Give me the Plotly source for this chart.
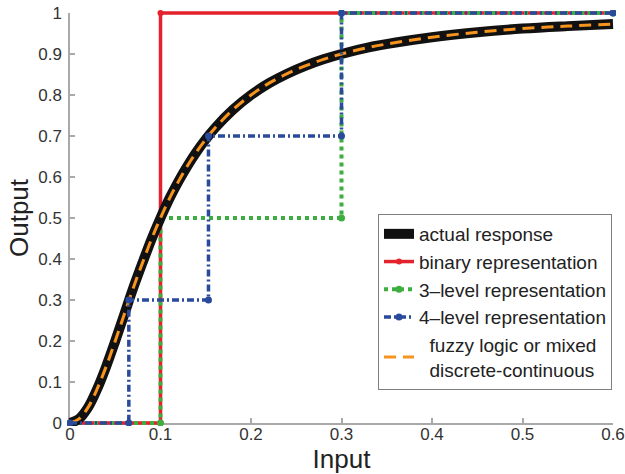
import plotly.graph_objects as go

# Measured (actual) response, also followed by the fuzzy / mixed model
resp_x = [0, 0.01, 0.02, 0.03, 0.04, 0.05, 0.06, 0.07, 0.08, 0.09, 0.10,
          0.11, 0.12, 0.13, 0.14, 0.15, 0.16, 0.18, 0.20, 0.22, 0.24,
          0.26, 0.28, 0.30, 0.33, 0.36, 0.40, 0.45, 0.50, 0.55, 0.60]
resp_y = [0, 0.010, 0.038, 0.083, 0.138, 0.200, 0.265, 0.330, 0.390, 0.448, 0.500,
          0.548, 0.590, 0.628, 0.662, 0.692, 0.719, 0.764, 0.800, 0.829, 0.852,
          0.871, 0.887, 0.900, 0.916, 0.928, 0.941, 0.953, 0.962, 0.968, 0.973]

# Discrete representations (step functions)
binary_x = [0, 0.1, 0.1, 0.6]
binary_y = [0, 0, 1, 1]
level3_x = [0, 0.1, 0.1, 0.3, 0.3, 0.6]
level3_y = [0, 0, 0.5, 0.5, 1, 1]
level4_x = [0, 0.065, 0.065, 0.153, 0.153, 0.3, 0.3, 0.6]
level4_y = [0, 0, 0.3, 0.3, 0.7, 0.7, 1, 1]

x_ticks = [0, 0.1, 0.2, 0.3, 0.4, 0.5, 0.6]
x_tick_text = ["0", "0.1", "0.2", "0.3", "0.4", "0.5", "0.6"]
y_ticks = [0, 0.1, 0.2, 0.3, 0.4, 0.5, 0.6, 0.7, 0.8, 0.9, 1]
y_tick_text = ["0", "0.1", "0.2", "0.3", "0.4", "0.5", "0.6", "0.7", "0.8", "0.9", "1"]

X_MAX, Y_MAX = 0.6, 1.0

# Page geometry (pixels)
W, H = 625, 474
IN_L, IN_R, IN_T, IN_B = 70, 613, 13, 423   # axes box
PAD = 3                                      # room so thick lines are not clipped
PL, PR, PT, PB = IN_L - PAD, IN_R + PAD, IN_T - PAD, IN_B + PAD
pw, ph = PR - PL, PB - PT
sx = (IN_R - IN_L) / X_MAX
sy = (IN_B - IN_T) / Y_MAX

FONT = "Liberation Sans, Arial, Helvetica, sans-serif"
AXIS_GREY = "#a9a9a9"

RED = "#e3222b"
GREEN = "#3dae3f"
BLUE = "#2a4b9b"
ORANGE = "#f7941e"
BLACK = "#111111"

fig = go.Figure()

# empty trace so the framing axes are drawn
fig.add_trace(go.Scatter(x=[], y=[], xaxis="x", yaxis="y", showlegend=False,
                         hoverinfo="skip"))

fig.add_trace(go.Scatter(
    x=binary_x, y=binary_y, xaxis="x2", yaxis="y2",
    name="binary representation", legendrank=2,
    mode="lines+markers",
    line=dict(color=RED, width=3.5),
    marker=dict(color=RED, size=6),
))
fig.add_trace(go.Scatter(
    x=level3_x, y=level3_y, xaxis="x2", yaxis="y2",
    name="3\u2013level representation", legendrank=3,
    mode="lines+markers",
    line=dict(color=GREEN, width=4, dash="4px,4px"),
    marker=dict(color=GREEN, size=7),
))
fig.add_trace(go.Scatter(
    x=resp_x, y=resp_y, xaxis="x2", yaxis="y2",
    name="actual response", legendrank=1,
    mode="lines",
    line=dict(color=BLACK, width=10, shape="spline", smoothing=1),
))
fig.add_trace(go.Scatter(
    x=resp_x, y=resp_y, xaxis="x2", yaxis="y2",
    name="\u00a0\u00a0fuzzy logic or mixed<br>\u00a0\u00a0discrete-continuous",
    legendrank=5,
    mode="lines",
    line=dict(color=ORANGE, width=3, dash="12px,7px", shape="spline", smoothing=1),
))
fig.add_trace(go.Scatter(
    x=level4_x, y=level4_y, xaxis="x2", yaxis="y2",
    name="4\u2013level representation", legendrank=4,
    mode="lines+markers",
    line=dict(color=BLUE, width=3.5, dash="7px,3px,2px,3px"),
    marker=dict(color=BLUE, size=7),
))

frame_axis = dict(
    showline=True, linecolor=AXIS_GREY, linewidth=1.5,
    ticks="inside", ticklen=5, tickwidth=1.5, tickcolor=AXIS_GREY,
    showgrid=False, zeroline=False, mirror=False,
    tickfont=dict(family=FONT, size=17, color="#333333"),
    ticklabeloverflow="allow", automargin=False,
    fixedrange=True,
)

fig.update_layout(
    width=W, height=H,
    margin=dict(l=PL, r=W - PR, t=PT, b=H - PB, pad=0, autoexpand=False),
    paper_bgcolor="white", plot_bgcolor="rgba(0,0,0,0)",
    font=dict(family=FONT, color="#222222"),
    xaxis=dict(
        frame_axis,
        domain=[PAD / pw, 1 - PAD / pw], anchor="y",
        range=[0, X_MAX], tickvals=x_ticks, ticktext=x_tick_text,
        ticklabelstandoff=-5,
        title=dict(text="Input", font=dict(family=FONT, size=26, color="#222222"),
                   standoff=5),
    ),
    yaxis=dict(
        frame_axis,
        domain=[PAD / ph, 1 - PAD / ph], anchor="x",
        range=[0, Y_MAX], tickvals=y_ticks, ticktext=y_tick_text,
        ticklabelstandoff=3,
        title=dict(text="Output", font=dict(family=FONT, size=26, color="#222222"),
                   standoff=2),
    ),
    xaxis2=dict(domain=[0, 1], anchor="y2", visible=False, fixedrange=True,
                automargin=False, range=[-PAD / sx, X_MAX + PAD / sx]),
    yaxis2=dict(domain=[0, 1], anchor="x2", visible=False, fixedrange=True,
                automargin=False, range=[-PAD / sy, Y_MAX + PAD / sy]),
    legend=dict(
        x=(612 - PL) / pw, xanchor="right",
        y=(PB - 390) / ph, yanchor="bottom",
        bgcolor="white", bordercolor="#7f7f7f", borderwidth=1,
        font=dict(family=FONT, size=19, color="#222222"),
        tracegroupgap=0, itemwidth=30,
    ),
    showlegend=True,
)

fig.write_html("out.html")
